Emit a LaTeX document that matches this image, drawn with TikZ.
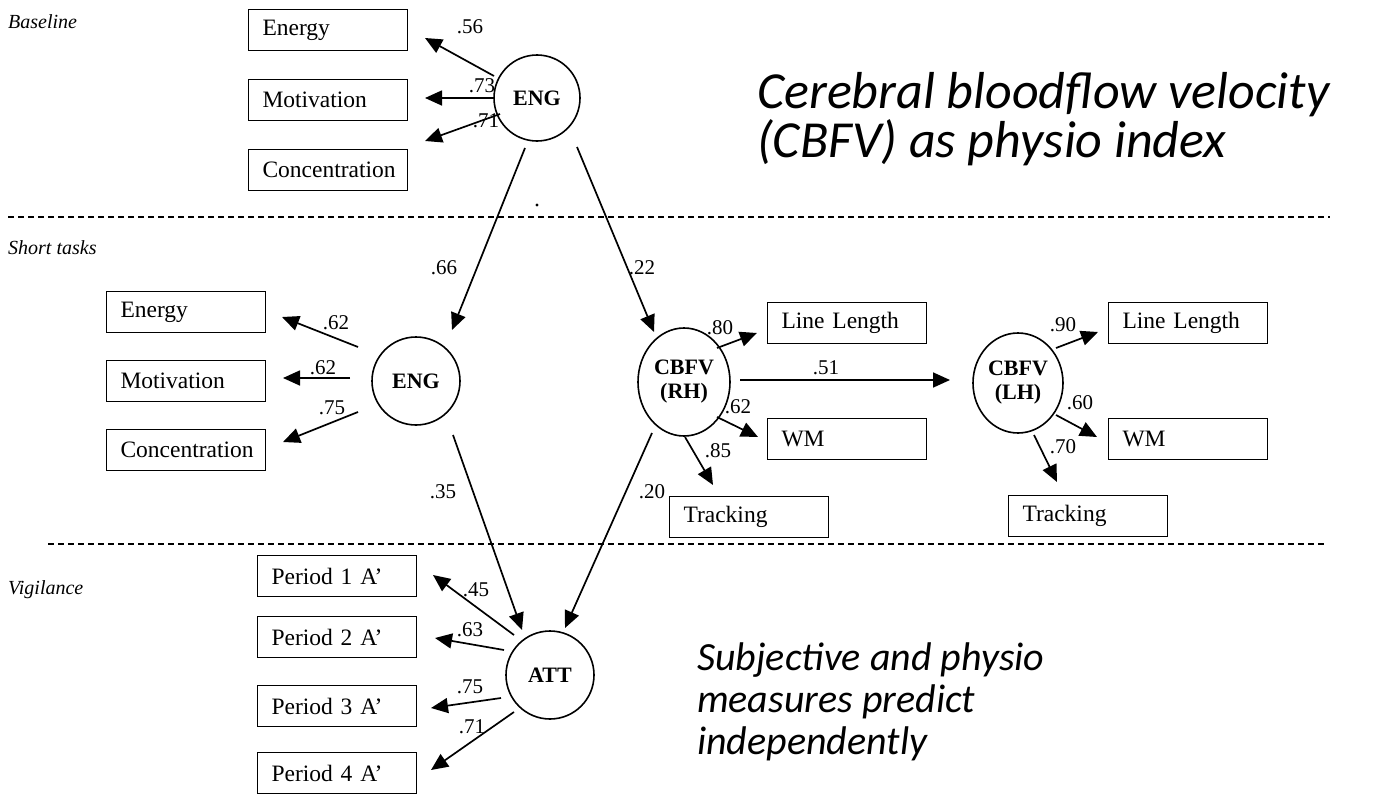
\documentclass[tikz,border=0pt]{standalone}
\usepackage{fontspec}
\setmainfont{Liberation Serif}
\newfontfamily\noteFont{Carlito}
\usetikzlibrary{calc,arrows.meta,shapes.geometric}
\begin{document}
\begin{tikzpicture}[x=1pt,y=-1pt,
 box/.style={draw, line width=1.7pt, minimum height=41pt, text width=131pt, inner xsep=14pt, inner ysep=0pt, align=left, font=\fontsize{23.5}{25}\selectfont},
 lat/.style={draw, circle, line width=1.6pt, minimum size=86pt, inner sep=0pt, font=\bfseries\fontsize{22}{23}\selectfont, align=center},
 latE/.style={draw, ellipse, line width=1.6pt, inner sep=0pt, font=\bfseries\fontsize{22}{24}\selectfont, align=center},
 arr/.style={line width=1.7pt, -{Triangle[length=17pt,width=15pt]}},
 coef/.style={font=\fontsize{21}{22}\selectfont, inner sep=0pt},
 sect/.style={font=\itshape\fontsize{20}{22}\selectfont, anchor=west, inner sep=0pt},
 note/.style={font=\noteFont\itshape, anchor=north west, align=left, inner sep=0pt},
 sep/.style={line width=1.5pt, dash pattern=on 6pt off 4pt}
]
\useasboundingbox (0,0) rectangle (1376,795);

% section labels
\node[sect] (sBase) at (8,22) {Baseline};
\node[sect] (sShort) at (8,248) {Short tasks};
\node[sect] (sVig) at (8,590) {Vigilance};

% separators
\coordinate (d1a) at (8,217);
\coordinate (d1b) at (1330,217);
\coordinate (d2a) at (48,544);
\coordinate (d2b) at (1325,544);
\draw[sep] (d1a) -- (d1b);
\draw[sep] (d2a) -- (d2b);
\fill (537,205) circle (1.6pt);

% baseline
\node[box] (te) at (328,30) {Energy};
\node[box] (tm) at (328,100) {Motivation};
\node[box] (tc) at (328,170) {Concentration};
\node[lat] (e1) at (537,98) {ENG};

% short tasks
\node[box] (me) at (186,312) {Energy};
\node[box] (mm) at (186,381) {Motivation};
\node[box] (mc) at (186,450) {Concentration};
\node[lat, minimum size=88pt] (e2) at (416,381) {ENG};
\node[latE, minimum width=92pt, minimum height=108pt] (rh) at (684,382) {CBFV\\(RH)};
\node[latE, minimum width=90pt, minimum height=100pt] (lh) at (1018,383) {CBFV\\(LH)};
\node[box] (rll) at (847,323) {Line Length};
\node[box] (rwm) at (847,439) {WM};
\node[box] (rtr) at (749,517) {Tracking};
\node[box] (lll) at (1188,323) {Line Length};
\node[box] (lwm) at (1188,439) {WM};
\node[box] (ltr) at (1088,516) {Tracking};

% vigilance
\node[box] (p1) at (337,576) {Period 1 A'};
\node[box] (p2) at (337,637) {Period 2 A'};
\node[box] (p3) at (337,706) {Period 3 A'};
\node[box] (p4) at (337,773) {Period 4 A'};
\node[lat, minimum size=88pt] (att) at (550,675) {ATT};

% notes
\node[note, font=\noteFont\itshape\fontsize{52}{49}\selectfont] (n1) at (757,72) {Cerebral bloodflow velocity\\(CBFV) as physio index};
\node[note, font=\noteFont\itshape\fontsize{40}{42}\selectfont] (n2) at (697,643) {Subjective and physio\\measures predict\\independently};

% arrows
\draw[arr] ($(e1)+(-43,-22)$) -- ($(te)+(97,8)$);
\draw[arr] ($(e1)+(-44,0)$) -- ($(tm)+(97,-2)$);
\draw[arr] ($(e1)+(-37,16)$) -- ($(tc)+(97,-29)$);
\draw[arr] ($(e1)+(-12,50)$) -- ($(e2)+(36,-51)$);
\draw[arr] ($(e1)+(40,49)$) -- ($(rh)+(-30,-50)$);
\draw[arr] ($(e2)+(-58,-34)$) -- ($(me)+(96,5)$);
\draw[arr] ($(e2)+(-66,-3)$) -- ($(mm)+(97,-3)$);
\draw[arr] ($(e2)+(-58,31)$) -- ($(mc)+(97,-8)$);
\draw[arr] ($(e2)+(37,54)$) -- ($(att)+(-28,-45)$);
\draw[arr] ($(rh)+(-32,51)$) -- ($(att)+(15,-47)$);
\draw[arr] ($(rh)+(33,-34)$) -- ($(rll)+(-90,10)$);
\draw[arr] ($(rh)+(33,35)$) -- ($(rwm)+(-89,-2)$);
\draw[arr] ($(rh)+(1,55)$) -- ($(rtr)+(-36,-32)$);
\draw[arr] ($(rh)+(56,-2)$) -- ($(lh)+(-68,-3)$);
\draw[arr] ($(lh)+(38,-35)$) -- ($(lll)+(-90,9)$);
\draw[arr] ($(lh)+(38,32)$) -- ($(lwm)+(-91,-2)$);
\draw[arr] ($(lh)+(16,52)$) -- ($(ltr)+(-31,-34)$);
\draw[arr] ($(att)+(-36,-40)$) -- ($(p1)+(96,-1)$);
\draw[arr] ($(att)+(-46,-25)$) -- ($(p2)+(98,1)$);
\draw[arr] ($(att)+(-49,23)$) -- ($(p3)+(94,2)$);
\draw[arr] ($(att)+(-36,37)$) -- ($(p4)+(94,-3)$);

% coefficients
\node[coef] (c1) at (470,27) {.56};
\node[coef] (c2) at (482,86) {.73};
\node[coef] (c3) at (486,121) {.71};
\node[coef] (c4) at (444,268) {.66};
\node[coef] (c5) at (642,268) {.22};
\node[coef] (c6) at (336,323) {.62};
\node[coef] (c7) at (323,368) {.62};
\node[coef] (c8) at (332,408) {.75};
\node[coef] (c9) at (443,492) {.35};
\node[coef] (c10) at (652,492) {.20};
\node[coef] (c11) at (720,328) {.80};
\node[coef] (c12) at (738,407) {.62};
\node[coef] (c13) at (718,451) {.85};
\node[coef] (c14) at (826,368) {.51};
\node[coef] (c15) at (1063,325) {.90};
\node[coef] (c16) at (1080,403) {.60};
\node[coef] (c17) at (1063,447) {.70};
\node[coef] (c18) at (476,590) {.45};
\node[coef] (c19) at (470,630) {.63};
\node[coef] (c20) at (470,687) {.75};
\node[coef] (c21) at (472,727) {.71};
\end{tikzpicture}
\end{document}
